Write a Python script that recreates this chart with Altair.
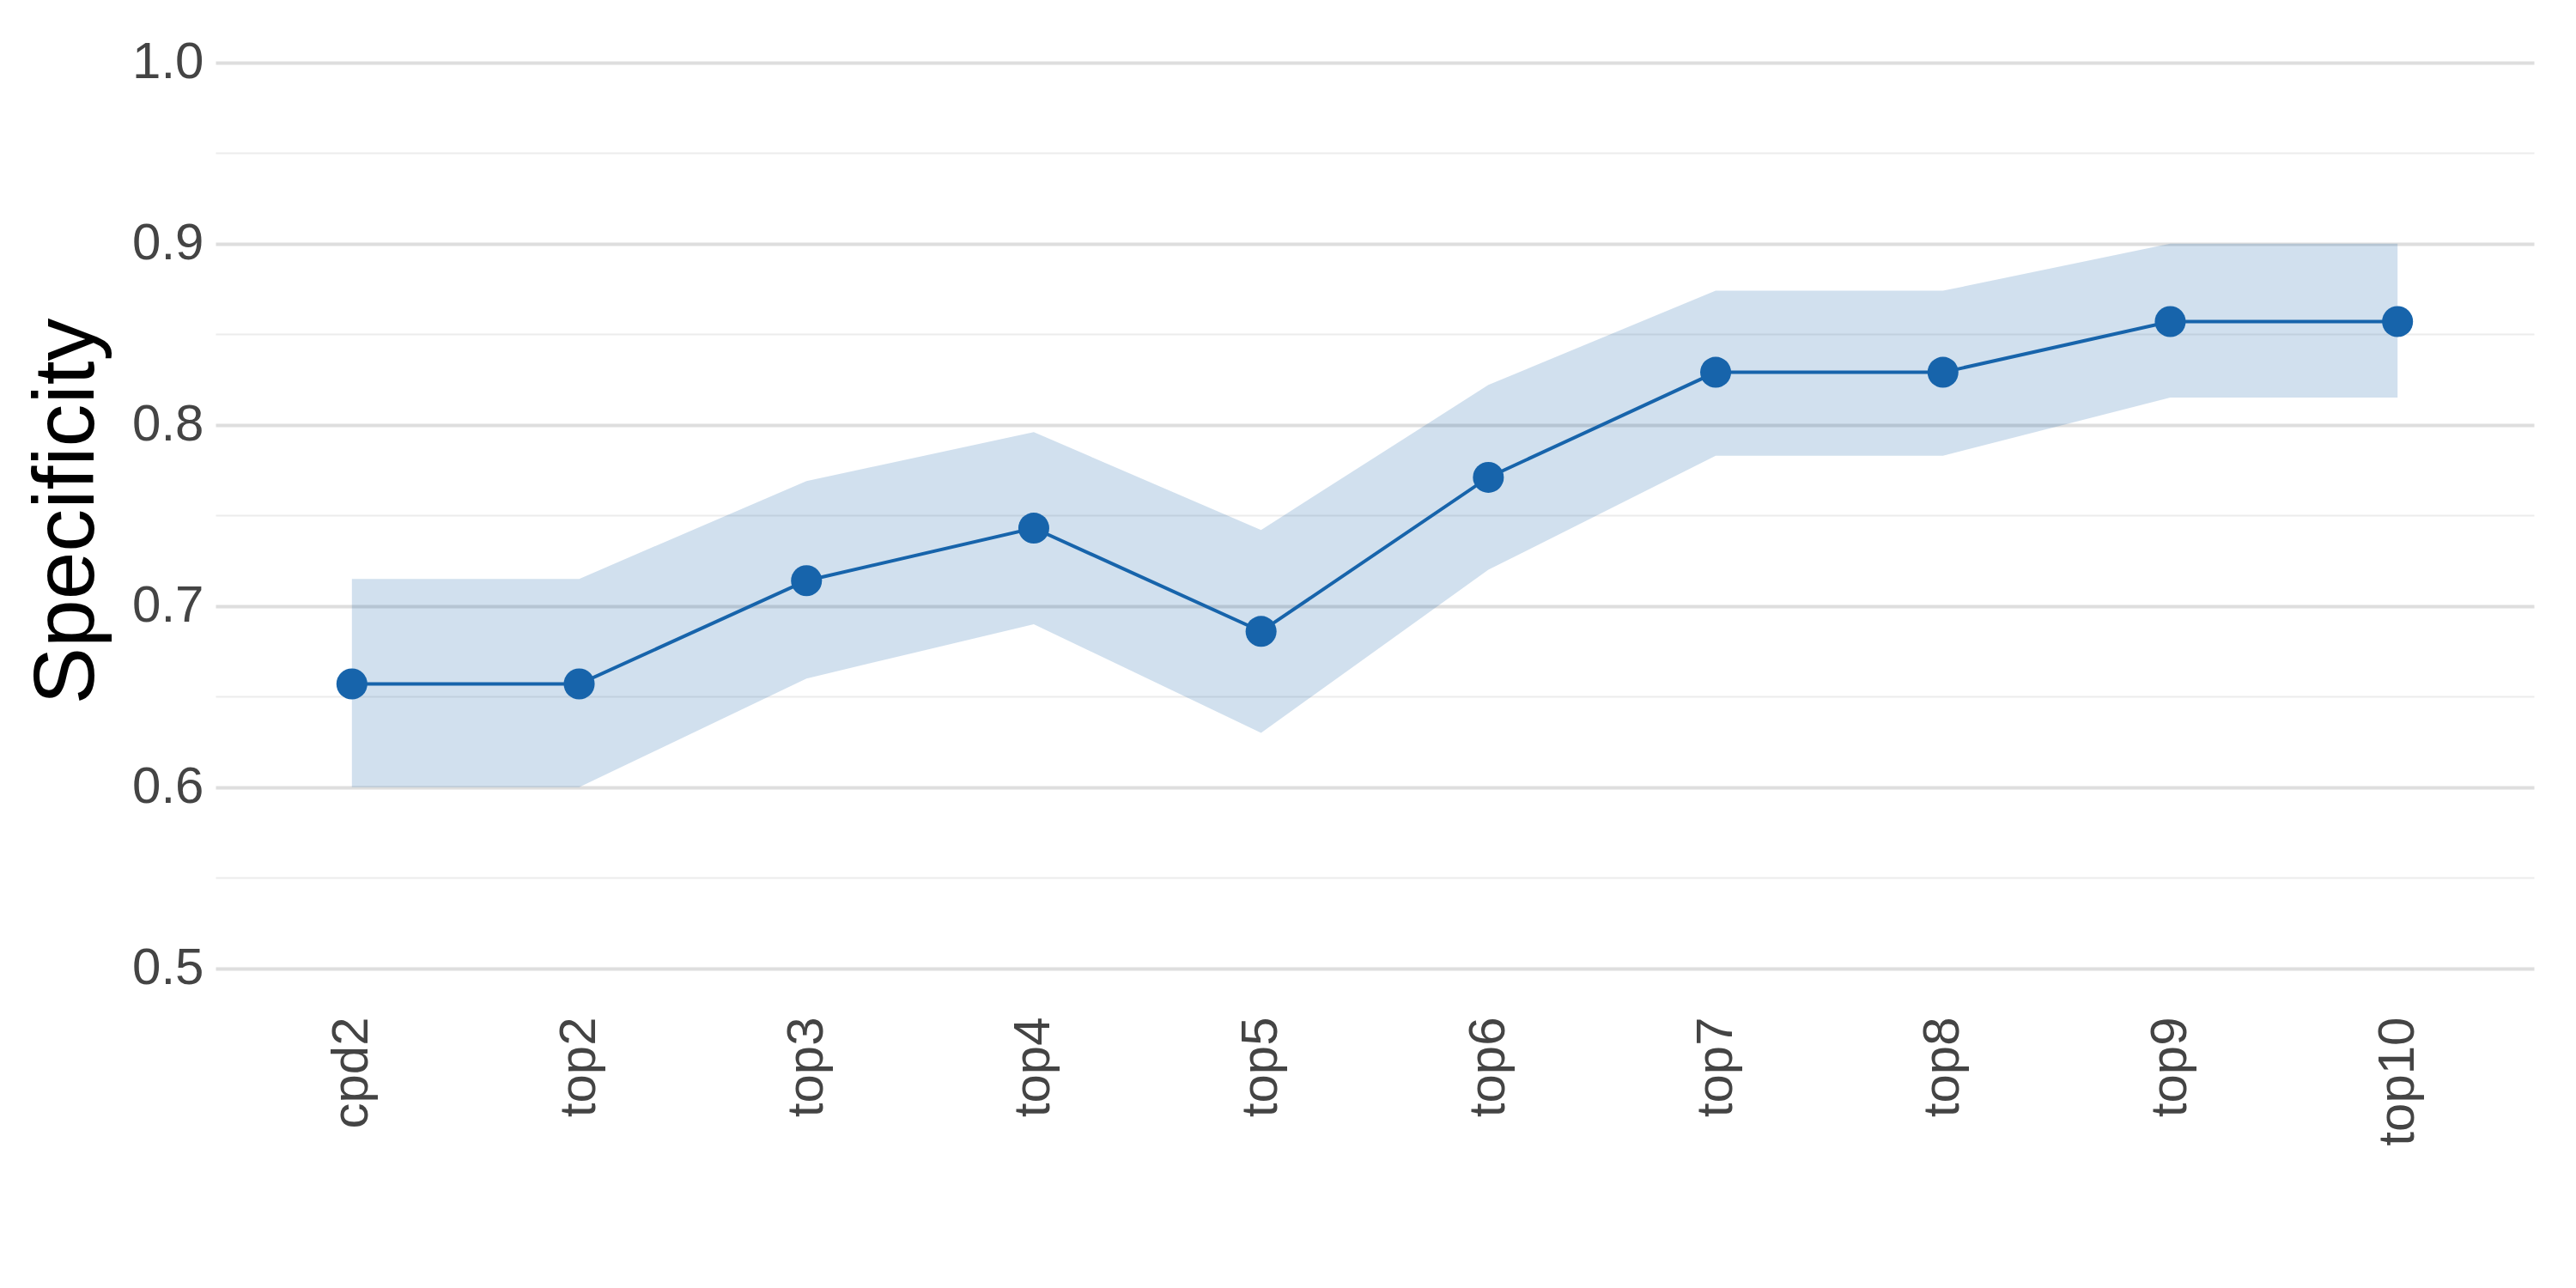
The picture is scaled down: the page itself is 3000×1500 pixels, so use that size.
import altair as alt
import pandas as pd

categories = ["cpd2", "top2", "top3", "top4", "top5", "top6", "top7", "top8", "top9", "top10"]
specificity = [0.657, 0.657, 0.714, 0.743, 0.686, 0.771, 0.829, 0.829, 0.857, 0.857]
lower = [0.600, 0.600, 0.660, 0.690, 0.630, 0.720, 0.783, 0.783, 0.815, 0.815]
upper = [0.715, 0.715, 0.769, 0.796, 0.742, 0.822, 0.874, 0.874, 0.900, 0.900]

df = pd.DataFrame({"cat": categories, "spec": specificity, "lo": lower, "hi": upper})

grid_vals = [round(0.5 + 0.05 * i, 2) for i in range(11)]
major = "round(datum.value*100) % 10 == 0"

x = alt.X("cat:N", sort=categories, title=None,
          scale=alt.Scale(type="point", padding=0.6),
          axis=alt.Axis(labelAngle=-90, labelFontSize=60, labelColor="#444",
                        labelFont="Liberation Sans", labelPadding=14,
                        gridColor="#e4e4e4", gridWidth=3, domain=False, ticks=False))

band = alt.Chart(df).mark_area(color="#1764ab", opacity=0.2).encode(
    x=x,
    y=alt.Y("lo:Q", title="Specificity",
            scale=alt.Scale(domain=[0.48, 1.025], nice=False, zero=False),
            axis=alt.Axis(values=grid_vals,
                          labelExpr=f"({major}) ? format(datum.value, '.1f') : ''",
                          labelFontSize=60, labelColor="#444", labelFont="Liberation Sans",
                          titleFontSize=100, titleFont="Liberation Sans", titleFontWeight="normal",
                          titleColor="#000", titlePadding=24, labelPadding=14,
                          gridColor={"condition": {"test": major, "value": "#dedede"}, "value": "#ececec"},
                          gridWidth={"condition": {"test": major, "value": 4}, "value": 2},
                          domain=False, ticks=False)),
    y2="hi:Q",
)

line = alt.Chart(df).mark_line(color="#1764ab", strokeWidth=4).encode(x=x, y="spec:Q")
pts = alt.Chart(df).mark_point(color="#1764ab", filled=True, opacity=1, size=1300).encode(x=x, y="spec:Q")

chart = (band + line + pts).properties(
    width=2700, height=1150, padding={"left": 20, "top": 12, "right": 5, "bottom": 5}
).configure_view(stroke=None)

chart.save("out.html", embed_options={"renderer": "svg", "actions": False})
